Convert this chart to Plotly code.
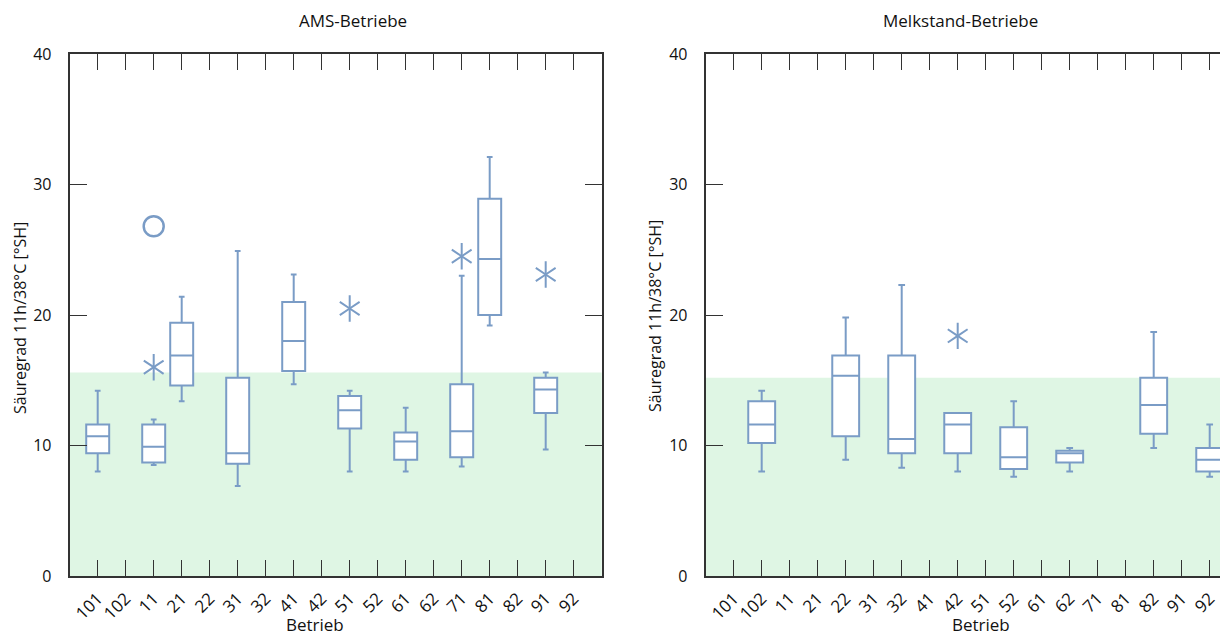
import plotly.graph_objects as go

# ---------------- data ----------------
categories = ["101", "102", "11", "21", "22", "31", "32", "41", "42",
              "51", "52", "61", "62", "71", "81", "82", "91", "92"]

# AMS-Betriebe
ams_x = ["101", "11", "21", "31", "41", "51", "61", "71", "81", "91"]
ams_lower = [8.0, 8.5, 13.4, 6.9, 14.7, 8.0, 8.0, 8.4, 19.2, 9.7]
ams_q1 = [9.4, 8.7, 14.6, 8.6, 15.7, 11.3, 8.9, 9.1, 20.0, 12.5]
ams_median = [10.7, 9.9, 16.9, 9.4, 18.0, 12.7, 10.3, 11.1, 24.3, 14.3]
ams_q3 = [11.6, 11.6, 19.4, 15.2, 21.0, 13.8, 11.0, 14.7, 28.9, 15.2]
ams_upper = [14.2, 12.0, 21.4, 24.9, 23.1, 14.2, 12.9, 23.0, 32.1, 15.6]
ams_extreme_x = ["11", "51", "71", "91"]
ams_extreme_y = [16.0, 20.5, 24.5, 23.1]
ams_outlier_x = ["11"]
ams_outlier_y = [26.8]
ams_limit = 15.6

# Melkstand-Betriebe
melk_x = ["102", "22", "32", "42", "52", "62", "82", "92"]
melk_lower = [8.0, 8.9, 8.3, 8.0, 7.6, 8.0, 9.8, 7.6]
melk_q1 = [10.2, 10.7, 9.4, 9.4, 8.2, 8.7, 10.9, 8.0]
melk_median = [11.6, 15.35, 10.5, 11.6, 9.1, 9.4, 13.1, 8.9]
melk_q3 = [13.4, 16.9, 16.9, 12.5, 11.4, 9.6, 15.2, 9.8]
melk_upper = [14.2, 19.8, 22.3, 12.5, 13.4, 9.8, 18.7, 11.6]
melk_extreme_x = ["42"]
melk_extreme_y = [18.4]
melk_limit = 15.2

y_ticks = [0, 10, 20, 30, 40]

# ---------------- style ----------------
W, H = 1240, 634          # figure size (page body adds an 8px offset)
OX, OY = 8, 8
FONT = "Open Sans"
BOX_COLOR = "#7A9CC6"
GREEN = "#DFF6E4"
FRAME = "#333333"
TXT = "#111111"


def px(sx):
    return (sx - OX) / W


def py(sy):
    return 1 - (sy - OY) / H


fig = go.Figure()


def add_asterisks(xs, ys, xa, ya):
    # six-armed asterisk = "y-up" + "y-down" strokes on the same point
    for sym in ("y-up-open", "y-down-open"):
        fig.add_trace(go.Scatter(
            x=xs, y=ys, mode="markers", xaxis=xa, yaxis=ya,
            marker=dict(symbol=sym, size=16.5, color=BOX_COLOR,
                        line=dict(color=BOX_COLOR, width=2)),
            showlegend=False, hoverinfo="skip"))


fig.add_trace(go.Box(
    x=ams_x, q1=ams_q1, median=ams_median, q3=ams_q3,
    lowerfence=ams_lower, upperfence=ams_upper,
    xaxis="x", yaxis="y", width=0.82, whiskerwidth=0.25,
    line=dict(color=BOX_COLOR, width=2), fillcolor="white",
    boxpoints=False, showlegend=False, hoverinfo="skip"))
add_asterisks(ams_extreme_x, ams_extreme_y, "x", "y")
fig.add_trace(go.Scatter(
    x=ams_outlier_x, y=ams_outlier_y, mode="markers", xaxis="x", yaxis="y",
    marker=dict(symbol="circle-open", size=20, color=BOX_COLOR,
                line=dict(color=BOX_COLOR, width=2.5)),
    showlegend=False, hoverinfo="skip"))

fig.add_trace(go.Box(
    x=melk_x, q1=melk_q1, median=melk_median, q3=melk_q3,
    lowerfence=melk_lower, upperfence=melk_upper,
    xaxis="x2", yaxis="y2", width=0.96, whiskerwidth=0.25,
    line=dict(color=BOX_COLOR, width=2), fillcolor="white",
    boxpoints=False, showlegend=False, hoverinfo="skip"))
add_asterisks(melk_extreme_x, melk_extreme_y, "x2", "y2")

xaxis_common = dict(
    type="category", categoryorder="array", categoryarray=categories,
    tickmode="array", tickvals=categories, ticktext=categories,
    tickangle=-45, ticks="inside", ticklen=16, tickwidth=1.2, tickcolor=FRAME,
    showline=True, linecolor=FRAME, linewidth=2, mirror="ticks",
    showgrid=False, zeroline=False, automargin=False,
    tickfont=dict(family=FONT, size=17, color=TXT),
    ticklabelstandoff=4,
)
yaxis_common = dict(
    range=[0, 40], tickvals=y_ticks, ticks="inside", ticklen=17,
    tickwidth=1.2, tickcolor=FRAME,
    showline=True, linecolor=FRAME, linewidth=2, mirror="ticks",
    showgrid=False, zeroline=False, automargin=False,
    tickfont=dict(family=FONT, size=16, color=TXT),
    ticklabelstandoff=13,
)

y_dom = [py(576), py(54)]

fig.update_layout(
    width=W, height=H,
    margin=dict(l=0, r=0, t=0, b=0),
    paper_bgcolor="white", plot_bgcolor="white",
    font=dict(family=FONT, color=TXT),
    xaxis=dict(xaxis_common, domain=[px(69.7), px(601.7)], range=[-1, 18], anchor="y"),
    yaxis=dict(yaxis_common, domain=y_dom, anchor="x"),
    xaxis2=dict(xaxis_common, domain=[px(705.7), px(1237.7)], range=[-1, 18], anchor="y2"),
    yaxis2=dict(yaxis_common, domain=y_dom, anchor="x2"),
    shapes=[
        dict(type="rect", xref="x domain", yref="y", x0=0, x1=1, y0=0, y1=ams_limit,
             fillcolor=GREEN, line=dict(width=0), layer="below"),
        dict(type="rect", xref="x2 domain", yref="y2", x0=0, x1=1, y0=0, y1=melk_limit,
             fillcolor=GREEN, line=dict(width=0), layer="below"),
    ],
    annotations=[
        dict(text="AMS-Betriebe", x=px(353), y=py(21), xref="paper", yref="paper",
             showarrow=False, font=dict(family=FONT, size=17, color=TXT),
             xanchor="center", yanchor="middle"),
        dict(text="Melkstand-Betriebe", x=px(960), y=py(21), xref="paper", yref="paper",
             showarrow=False, font=dict(family=FONT, size=17, color=TXT),
             xanchor="center", yanchor="middle"),
        dict(text="Säuregrad 11h/38°C [°SH]", x=px(20), y=py(318), xref="paper", yref="paper",
             showarrow=False, textangle=-90, font=dict(family=FONT, size=16, color=TXT),
             xanchor="center", yanchor="middle"),
        dict(text="Säuregrad 11h/38°C [°SH]", x=px(655), y=py(316), xref="paper", yref="paper",
             showarrow=False, textangle=-90, font=dict(family=FONT, size=16, color=TXT),
             xanchor="center", yanchor="middle"),
        dict(text="Betrieb", x=px(315), y=py(624), xref="paper", yref="paper",
             showarrow=False, font=dict(family=FONT, size=17, color=TXT),
             xanchor="center", yanchor="middle"),
        dict(text="Betrieb", x=px(981), y=py(624), xref="paper", yref="paper",
             showarrow=False, font=dict(family=FONT, size=17, color=TXT),
             xanchor="center", yanchor="middle"),
    ],
)

fig.write_html("out.html")
